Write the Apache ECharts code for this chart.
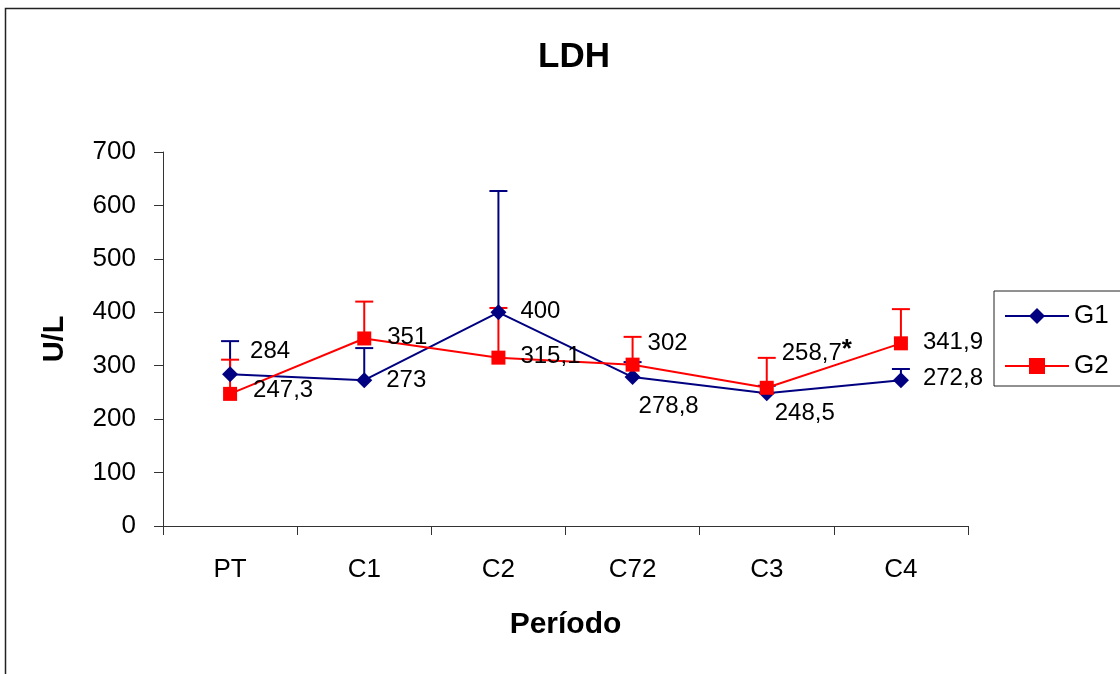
<!DOCTYPE html>
<html>
<head>
<meta charset="utf-8">
<title>LDH</title>
<script src="https://cdn.jsdelivr.net/npm/echarts@6/dist/echarts.min.js"></script>
<style>
  html, body { margin: 0; padding: 0; background: #fff; }
  #chart { width: 1120px; height: 674px; }
</style>
</head>
<body>
<div id="chart"></div>
<script>
// Data
const categories = ['PT', 'C1', 'C2', 'C72', 'C3', 'C4'];
const g1Values = [284, 273, 400, 278.8, 248.5, 272.8];
const g2Values = [247.3, 351, 315.1, 302, 258.7, 341.9];
// upper error bar lengths (U/L)
const g1Err = [62, 60, 227, 28, 14, 21];
const g2Err = [64, 69, 93, 52, 56, 64];
// significance marks after the labels
const g2Marks = ['', '', '', '', '*', ''];

// label offsets from each point, in px
const g1LabelOffsets = [[20, -23], [22, 0], [22, -1], [6, 29], [8, 20], [22, -2]];
const g2LabelOffsets = [[23, -3], [23, -1], [22, -1], [15, -21], [15, -34], [22, -1]];

const FONT = '"Liberation Sans", Arial, sans-serif';
const BLUE = '#000080';
const RED = '#ff0000';

const fmt = v => String(v).replace('.', ',');

function pointData(values, offsets, marks) {
  return values.map((v, i) => ({
    value: v,
    label: {
      offset: offsets[i],
      formatter: marks && marks[i] ? '{a|' + fmt(v) + '}{s|' + marks[i] + '}' : fmt(v)
    }
  }));
}

// error bars only go up
function errorBars(name, values, errs, color) {
  return {
    name: name,
    type: 'custom',
    z: 1,
    silent: true,
    data: values.map((v, i) => [i, v, errs[i]]),
    renderItem: (params, api) => {
      const i = api.value(0);
      const v = api.value(1);
      const e = api.value(2);
      const p0 = api.coord([i, v]);
      const p1 = api.coord([i, v + e]);
      const st = { stroke: color, lineWidth: 2 };
      return {
        type: 'group',
        children: [
          { type: 'line', shape: { x1: p0[0], y1: p0[1], x2: p1[0], y2: p1[1] }, style: st },
          { type: 'line', shape: { x1: p1[0] - 9, y1: p1[1], x2: p1[0] + 9, y2: p1[1] }, style: st }
        ]
      };
    }
  };
}

const labelBase = {
  show: true,
  position: 'inside',
  align: 'left',
  verticalAlign: 'middle',
  color: '#000',
  fontFamily: FONT,
  fontSize: 24,
  rich: {
    a: { fontFamily: FONT, fontSize: 24, color: '#000' },
    s: { fontFamily: FONT, fontSize: 26, fontWeight: 'bold', color: '#000', padding: [0, 0, 8, 0] }
  }
};

const myChart = echarts.init(document.getElementById('chart'));

const option = {
  animation: false,
  backgroundColor: '#fff',
  textStyle: { fontFamily: FONT },
  graphic: [{
    type: 'rect',
    shape: { x: 5.5, y: 8.5, width: 1300, height: 800 },
    style: { fill: 'none', stroke: '#222', lineWidth: 1.5 },
    z: -1
  }],
  title: {
    text: 'LDH',
    left: 569,
    top: 35,
    textAlign: 'center',
    textStyle: { fontFamily: FONT, fontSize: 35, fontWeight: 'bold', color: '#000' }
  },
  legend: {
    data: ['G1', 'G2'],
    orient: 'vertical',
    left: 994,
    top: 291,
    padding: [11, 40, 6, 10],
    itemGap: 22,
    itemWidth: 64,
    itemHeight: 20,
    borderColor: '#222',
    borderWidth: 1,
    textStyle: { fontFamily: FONT, fontSize: 26, color: '#000', lineHeight: 28 }
  },
  grid: { left: 163, right: 152, top: 152, bottom: 148 },
  xAxis: {
    type: 'category',
    data: categories,
    boundaryGap: true,
    name: 'Período',
    nameLocation: 'middle',
    nameGap: 84,
    nameTextStyle: { fontFamily: FONT, fontSize: 30, fontWeight: 'bold', color: '#000' },
    axisLine: { lineStyle: { color: '#333', width: 1 } },
    axisTick: { show: true, length: 9, lineStyle: { color: '#333' } },
    axisLabel: { fontFamily: FONT, fontSize: 26, color: '#000', margin: 31 }
  },
  yAxis: {
    type: 'value',
    min: 0,
    max: 700,
    interval: 100,
    name: 'U/L',
    nameLocation: 'middle',
    nameGap: 94,
    nameRotate: 90,
    nameTextStyle: { fontFamily: FONT, fontSize: 29, fontWeight: 'bold', color: '#000' },
    axisLine: { show: true, lineStyle: { color: '#333', width: 1 } },
    axisTick: { show: true, length: 9, lineStyle: { color: '#333' } },
    axisLabel: { fontFamily: FONT, fontSize: 26, color: '#000', margin: 27 },
    splitLine: { show: false }
  },
  series: [
    errorBars('G1 err', g1Values, g1Err, BLUE),
    errorBars('G2 err', g2Values, g2Err, RED),
    {
      name: 'G1',
      type: 'line',
      z: 3,
      data: pointData(g1Values, g1LabelOffsets),
      symbol: 'diamond',
      symbolSize: 16,
      lineStyle: { color: BLUE, width: 2 },
      itemStyle: { color: BLUE },
      label: labelBase
    },
    {
      name: 'G2',
      type: 'line',
      z: 4,
      data: pointData(g2Values, g2LabelOffsets, g2Marks),
      symbol: 'rect',
      symbolSize: 14,
      lineStyle: { color: RED, width: 2 },
      itemStyle: { color: RED },
      label: labelBase
    }
  ]
};

myChart.setOption(option);
</script>
</body>
</html>
